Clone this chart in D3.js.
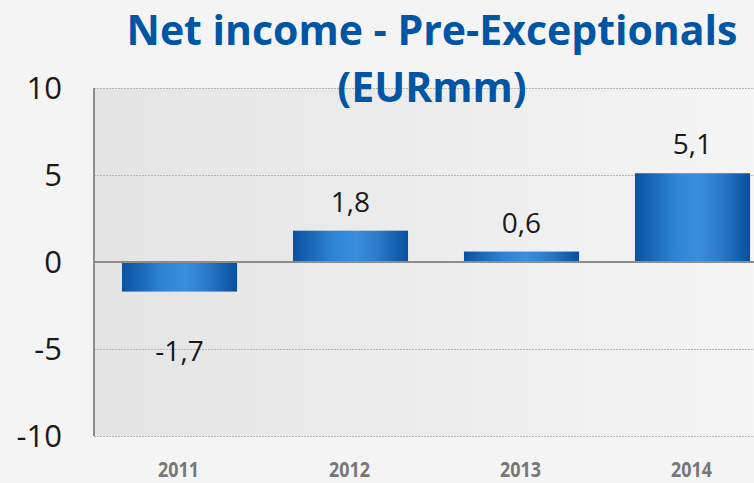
<!DOCTYPE html>
<html>
<head>
  <meta charset="utf-8">
  <title>Net income - Pre-Exceptionals</title>
  <style>
    body { margin: 0; background: #f4f4f4; }
    svg { display: block; }
  </style>
</head>
<body>
  <script src="https://d3js.org/d3.v7.min.js"></script>
  <script type="text/javascript">

var years = ["2011", "2012", "2013", "2014"];
var values = [-1.7, 1.8, 0.6, 5.1];
var labels = ["-1,7", "1,8", "0,6", "5,1"];
var yTicks = [-10, -5, 0, 5, 10];

var width = 754, height = 483;
var font = "'Open Sans', 'DejaVu Sans', sans-serif";

var svg = d3.select("body").append("svg")
    .attr("width", width)
    .attr("height", height);

var defs = svg.append("defs");

var bg = defs.append("linearGradient").attr("id", "plotbg")
    .attr("x1", "0").attr("x2", "1").attr("y1", "0").attr("y2", "0");
bg.append("stop").attr("offset", "0").attr("stop-color", "#e4e4e4");
bg.append("stop").attr("offset", "1").attr("stop-color", "#f5f5f5");

var bar = defs.append("linearGradient").attr("id", "bargrad")
    .attr("x1", "0").attr("x2", "1").attr("y1", "0").attr("y2", "0");
bar.append("stop").attr("offset", "0").attr("stop-color", "#0a52a0");
bar.append("stop").attr("offset", "0.35").attr("stop-color", "#2e84d4");
bar.append("stop").attr("offset", "0.55").attr("stop-color", "#3a8ede");
bar.append("stop").attr("offset", "0.75").attr("stop-color", "#2a78c6");
bar.append("stop").attr("offset", "1").attr("stop-color", "#07509e");

svg.append("rect").attr("width", width).attr("height", height).attr("fill", "#f4f4f4");

var x = d3.scaleBand().domain(years).range([94, 778]).paddingInner(0.327).paddingOuter(0.1635);
var y = d3.scaleLinear().domain([-10, 10]).range([436, 88]);

// plot area
svg.append("rect")
    .attr("x", 94).attr("y", y(10))
    .attr("width", 684).attr("height", y(-10) - y(10))
    .attr("fill", "url(#plotbg)");

// gridlines
svg.selectAll(".grid")
    .data(yTicks.filter(function(d) { return d !== 0; }))
    .enter().append("line")
    .attr("x1", 94).attr("x2", 778)
    .attr("y1", function(d) { return y(d) + 0.5; })
    .attr("y2", function(d) { return y(d) + 0.5; })
    .attr("stroke", "#b4b4b4")
    .attr("stroke-width", 1)
    .attr("stroke-dasharray", "2,1");

// tick labels
svg.selectAll(".ytick")
    .data(yTicks)
    .enter().append("text")
    .attr("x", 62)
    .attr("y", function(d) { return y(d) + 11; })
    .attr("text-anchor", "end")
    .style("font-family", font)
    .style("font-size", "31px")
    .style("fill", "#1a1a1a")
    .text(function(d) { return d; });

// bars
svg.selectAll(".bar")
    .data(values)
    .enter().append("rect")
    .attr("x", function(d, i) { return x(years[i]); })
    .attr("width", x.bandwidth())
    .attr("y", function(d) { return y(Math.max(0, d)); })
    .attr("height", function(d) { return Math.abs(y(d) - y(0)); })
    .attr("fill", "url(#bargrad)");

// zero line and left axis
svg.append("line")
    .attr("x1", 94).attr("x2", 778)
    .attr("y1", y(0)).attr("y2", y(0))
    .attr("stroke", "#8c8c8c").attr("stroke-width", 2);
svg.append("line")
    .attr("x1", 94).attr("x2", 94)
    .attr("y1", y(10)).attr("y2", y(-10))
    .attr("stroke", "#8c8c8c").attr("stroke-width", 2);

// data labels
svg.selectAll(".lbl")
    .data(values)
    .enter().append("text")
    .attr("x", function(d, i) { return x(years[i]) + x.bandwidth() / 2; })
    .attr("y", function(d) { return d >= 0 ? y(d) - 19 : y(d) + 69; })
    .attr("text-anchor", "middle")
    .style("font-family", font)
    .style("font-size", "28px")
    .style("fill", "#1a1a1a")
    .text(function(d, i) { return labels[i]; });

// x labels
svg.selectAll(".xlbl")
    .data(years)
    .enter().append("text")
    .attr("x", function(d) { return x(d) + x.bandwidth() / 2 - 1; })
    .attr("y", 477)
    .attr("text-anchor", "middle")
    .attr("textLength", 41)
    .attr("lengthAdjust", "spacingAndGlyphs")
    .style("font-family", font)
    .style("font-size", "21px")
    .style("font-weight", "bold")
    .style("fill", "#777777")
    .text(function(d) { return d; });

// title
var title = svg.append("text")
    .attr("text-anchor", "middle")
    .style("font-family", font)
    .style("font-size", "41px")
    .style("font-weight", "bold")
    .style("fill", "#0055a5");
title.append("tspan").attr("x", 432).attr("y", 45).text("Net income - Pre-Exceptionals");
title.append("tspan").attr("x", 432).attr("y", 102).text("(EURmm)");

  </script>
</body>
</html>
